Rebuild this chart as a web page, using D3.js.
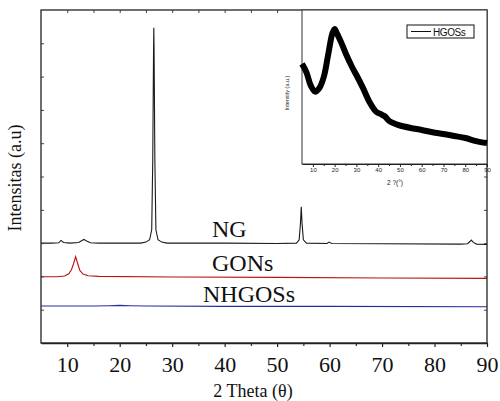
<!DOCTYPE html>
<html>
<head>
<meta charset="utf-8">
<script src="https://cdn.jsdelivr.net/npm/d3@7"></script>
<style>
  body { margin: 0; background: #fff; }
  svg { display: block; }
</style>
</head>
<body>
<svg id="chart" width="500" height="401"></svg>
<script>
// main XRD patterns (2 theta, intensity a.u. with vertical offsets)
let ngData = [[5,30],[7,30],[8.4,30.1],[8.8,30.8],[9.3,30.2],[10.5,30],[12.2,30.2],[12.8,30.8],[13.2,31.1],[13.7,30.6],[14.4,30.1],[16,30],[20,30],[24,30],[25,30.3],[25.7,31],[26.1,34],[26.3,55],[26.45,88],[26.5,94.7],[26.55,88],[26.7,55],[26.9,34],[27.3,31],[28,30.3],[29,30],[40,30],[50,29.9],[53.7,30],[54.2,31],[54.45,36],[54.6,40.9],[54.75,36],[55,31],[55.6,30],[59.5,29.9],[59.9,30.3],[60.4,29.9],[70,29.8],[85,29.7],[86.3,29.8],[86.7,30.4],[87,30.9],[87.4,30.2],[88,29.7],[90,29.6]]
let gonsData = [[5,19.9],[8,19.9],[9.5,20.1],[10.3,20.8],[10.8,22],[11.2,23.8],[11.6,25.9],[12,23.8],[12.4,21.8],[13,20.7],[14,20.2],[16,20],[30,19.8],[50,19.7],[70,19.5],[90,19.4]]
let nhgossData = [[5,11.1],[15,11.1],[18,11.2],[20,11.3],[22,11.2],[25,11.1],[40,11],[60,11],[90,10.9]]

// inset HGOSs pattern
let hgossData = [[5,65],[7,59.7],[9,51],[11,47],[13,49.4],[15,56.5],[17,70.8],[19,85],[20,87.7],[21,85],[23,79],[25,72.1],[28,63],[30,57.8],[33,49.4],[36,40.3],[39,34],[41,32.5],[43,31],[45,28],[48,26],[50,25],[55,23.4],[60,22.1],[65,20.6],[70,19.5],[75,18.2],[80,16.9],[85,14.9],[90,13.6]]

let xTicks = [10,20,30,40,50,60,70,80,90]
let insetTicks = [10,20,30,40,50,60,70,80,90]

let svg = d3.select("#chart")

let mLeft = 41, mRight = 487, mTop = 10, mBottom = 343

let x = d3.scaleLinear().domain([5, 90]).range([mLeft, mRight])
let y = d3.scaleLinear().domain([0, 100]).range([mBottom, mTop])

let serif = "'Liberation Serif', 'Times New Roman', serif"
let sans = "'Liberation Sans', Arial, sans-serif"

let line = d3.line().x(d => x(d[0])).y(d => y(d[1]))

svg.append("path").datum(ngData).attr("d", line)
  .attr("fill", "none").attr("stroke", "#1a1a1a").attr("stroke-width", 1.1)
svg.append("path").datum(gonsData).attr("d", line)
  .attr("fill", "none").attr("stroke", "#b81414").attr("stroke-width", 1.1)
svg.append("path").datum(nhgossData).attr("d", line)
  .attr("fill", "none").attr("stroke", "#2b2ba0").attr("stroke-width", 1.1)

// frame + ticks
let gx = svg.append("g").attr("transform", `translate(0,${mBottom})`)
  .call(d3.axisBottom(x).tickValues(xTicks).tickSize(4).tickSizeOuter(0).tickFormat(d3.format("d")))
gx.select(".domain").attr("stroke", "#222").attr("stroke-width", 1.3)
gx.selectAll(".tick line").attr("stroke", "#222").attr("stroke-width", 1.2)
gx.selectAll(".tick text").attr("font-family", serif).attr("font-size", 22)
  .attr("fill", "#111").attr("dy", "1.0em")

svg.append("g").attr("transform", `translate(0,${mBottom})`)
  .call(d3.axisBottom(x).tickValues(d3.range(15, 90, 10)).tickSize(3).tickFormat(""))
  .call(g => g.select(".domain").remove())
  .selectAll("line").attr("stroke", "#222").attr("stroke-width", 1.1)

svg.append("g").attr("transform", `translate(0,${mTop})`)
  .call(d3.axisBottom(x).tickValues(d3.range(10, 90, 5)).tickSize(3).tickFormat(""))
  .call(g => g.select(".domain").remove())
  .selectAll("line").attr("stroke", "#444")

let yTicks = d3.range(10, 100, 10)
svg.append("g").attr("transform", `translate(${mLeft},0)`)
  .call(d3.axisRight(y).tickValues(yTicks).tickSize(3).tickFormat(""))
  .call(g => g.select(".domain").remove())
  .selectAll("line").attr("stroke", "#444")
svg.append("g").attr("transform", `translate(${mRight},0)`)
  .call(d3.axisLeft(y).tickValues(yTicks).tickSize(3).tickFormat(""))
  .call(g => g.select(".domain").remove())
  .selectAll("line").attr("stroke", "#444")

svg.append("rect").attr("x", mLeft).attr("y", mTop)
  .attr("width", mRight - mLeft).attr("height", mBottom - mTop)
  .attr("fill", "none").attr("stroke", "#222").attr("stroke-width", 1.3)

// series labels
let labels = [["NG", 212, 237], ["GONs", 212, 271], ["NHGOSs", 203, 302]]
svg.selectAll(".lbl").data(labels).enter().append("text")
  .attr("x", d => d[1]).attr("y", d => d[2])
  .attr("font-family", serif).attr("font-size", 24).attr("fill", "#111")
  .text(d => d[0])

svg.append("text").attr("x", 253).attr("y", 397).attr("text-anchor", "middle")
  .attr("font-family", serif).attr("font-size", 18).attr("fill", "#111")
  .text("2 Theta (θ)")

svg.append("text").attr("transform", "translate(21,178) rotate(-90)")
  .attr("text-anchor", "middle")
  .attr("font-family", serif).attr("font-size", 18).attr("fill", "#111")
  .text("Intensitas (a.u)")

// inset
let il = 302, ir = 487, it = 10, ib = 164
let ix = d3.scaleLinear().domain([5, 90]).range([il, ir])
let iy = d3.scaleLinear().domain([0, 100]).range([ib, it])

let inset = svg.append("g")
inset.append("rect").attr("x", il).attr("y", it).attr("width", ir - il).attr("height", ib - it)
  .attr("fill", "#fff").attr("stroke", "#333").attr("stroke-width", 1)

inset.append("path").datum(hgossData)
  .attr("d", d3.line().x(d => ix(d[0])).y(d => iy(d[1])).curve(d3.curveCatmullRom))
  .attr("fill", "none").attr("stroke", "#000").attr("stroke-width", 6)
  .attr("stroke-linejoin", "round")

let igx = inset.append("g").attr("transform", `translate(0,${ib})`)
  .call(d3.axisBottom(ix).tickValues(insetTicks).tickSize(3).tickSizeOuter(0).tickFormat(d3.format("d")))
igx.select(".domain").attr("stroke", "#222").attr("stroke-width", 1.2)
igx.selectAll(".tick line").attr("stroke", "#222")
igx.selectAll(".tick text").attr("font-family", sans).attr("font-size", 6)
  .attr("fill", "#222").attr("dy", "0.4em")
inset.append("g").attr("transform", `translate(0,${ib})`)
  .call(d3.axisBottom(ix).tickValues(d3.range(15, 90, 10)).tickSize(2).tickFormat(""))
  .call(g => g.select(".domain").remove())
  .selectAll("line").attr("stroke", "#222")

inset.append("text").attr("x", 395).attr("y", 185).attr("text-anchor", "middle")
  .attr("font-family", sans).attr("font-size", 6.5).attr("fill", "#222")
  .text("2 ?(°)")
inset.append("text").attr("transform", "translate(289,93) rotate(-90)")
  .attr("text-anchor", "middle")
  .attr("font-family", sans).attr("font-size", 5.5).attr("fill", "#222")
  .text("Intensity (a.u.)")

// legend
inset.append("rect").attr("x", 407).attr("y", 25).attr("width", 67).attr("height", 13)
  .attr("fill", "#fff").attr("stroke", "#111").attr("stroke-width", 1)
inset.append("line").attr("x1", 411).attr("x2", 431).attr("y1", 31.5).attr("y2", 31.5)
  .attr("stroke", "#111").attr("stroke-width", 1)
inset.append("text").attr("x", 433).attr("y", 35.5)
  .attr("font-family", sans).attr("font-size", 10).attr("letter-spacing", -0.4).attr("fill", "#111")
  .text("HGOSs")
</script>
</body>
</html>
